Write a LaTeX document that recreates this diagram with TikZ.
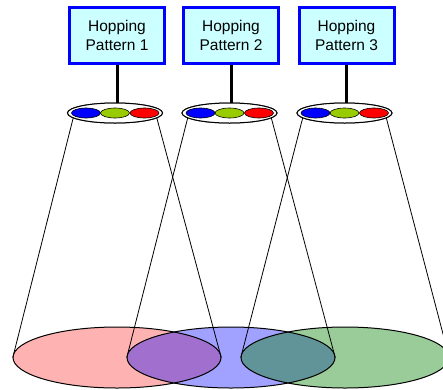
\documentclass[tikz,border=0pt]{standalone}
\usepackage{fontspec}
\setmainfont{Liberation Sans}
\usetikzlibrary{shapes.geometric}
\definecolor{boxfill}{RGB}{204,255,255}
\definecolor{hopblue}{RGB}{0,0,255}
\definecolor{hopgreen}{RGB}{153,204,0}
\definecolor{hopred}{RGB}{255,0,0}
\definecolor{cellgreen}{RGB}{0,128,0}
\begin{document}
\begin{tikzpicture}[x=1pt,y=-1pt,
  patbox/.style={draw=hopblue, line width=3pt, fill=boxfill, minimum width=95pt, minimum height=56pt, inner sep=0pt, align=center, font=\fontsize{15.5}{19.5}\selectfont},
  stem/.style={line width=3pt},
  tray/.style={ellipse, draw, line width=1pt, fill=white, minimum width=95pt, minimum height=20pt, inner sep=0pt},
  chan/.style={ellipse, draw, line width=0.6pt, minimum width=29pt, minimum height=10pt, inner sep=0pt},
  cell/.style={ellipse, minimum width=208pt, minimum height=61pt, inner sep=0pt},
  cellline/.style={cell, draw, line width=1pt},
  cone/.style={line width=0.8pt}]
\useasboundingbox (0,0) rectangle (443,389);
\clip (0,0) rectangle (443,389);
% coverage cells (fills)
\node[cell, fill=hopred, fill opacity=0.3] (b1) at (117,357.5) {};
\node[cell, fill=hopblue, fill opacity=0.37] (b2) at (231,357.5) {};
\node[cell, fill=cellgreen, fill opacity=0.4] (b3) at (345,357.5) {};
% outlines
\node[cellline] (o1) at (b1.center) {};
\node[cellline] (o2) at (b2.center) {};
\node[cellline] (o3) at (b3.center) {};
% pattern boxes
\node[patbox] (p1) at (117,35.5) {Hopping\\Pattern 1};
\node[patbox] (p2) at (231,35.5) {Hopping\\Pattern 2};
\node[patbox] (p3) at (346.5,35.5) {Hopping\\Pattern 3};
% trays
\node[tray] (t1) at (115,113) {};
\node[tray] (t2) at (229.5,113) {};
\node[tray] (t3) at (344.5,113) {};
% cones
\foreach \i in {1,2,3}{
  \draw[cone] (t\i.187) -- (b\i.west);
  \draw[cone] (t\i.-7) -- (b\i.east);
}
% redraw trays above cone starts
\node[tray] (u1) at (t1.center) {};
\node[tray] (u2) at (t2.center) {};
\node[tray] (u3) at (t3.center) {};
% stems
\foreach \i in {1,2,3}{
  \draw[stem] (p\i.south) -- (p\i.south |- t\i.north);
}
% channels
\foreach \i in {1,2,3}{
  \node[chan, fill=hopblue] (cb\i) at ([xshift=-29pt]t\i.center) {};
  \node[chan, fill=hopgreen] (cg\i) at (t\i.center) {};
  \node[chan, fill=hopred] (cr\i) at ([xshift=29.5pt]t\i.center) {};
}
\end{tikzpicture}
\end{document}
